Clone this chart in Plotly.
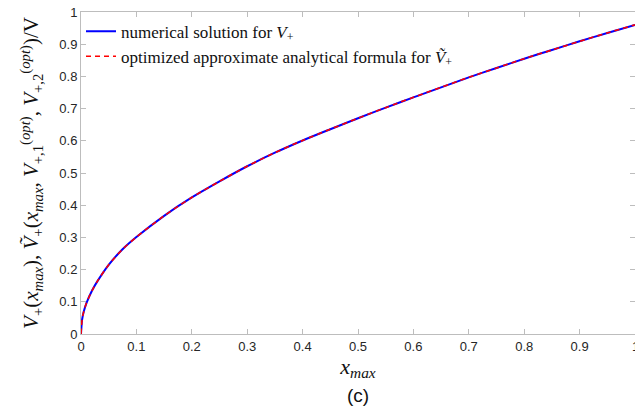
import plotly.graph_objects as go

# x_max grid and readings of V+ (normalised by V)
x_max = [0, 0.002, 0.005, 0.01, 0.02, 0.03, 0.05, 0.075, 0.1, 0.15, 0.2, 0.25,
         0.3, 0.35, 0.4, 0.45, 0.5, 0.55, 0.6, 0.65, 0.7, 0.75, 0.8, 0.85,
         0.9, 0.95, 1.0]
v_numerical = [0, 0.045, 0.07, 0.097, 0.135, 0.165, 0.215, 0.263, 0.301, 0.367,
               0.424, 0.474, 0.521, 0.563, 0.601, 0.636, 0.670, 0.703, 0.735,
               0.766, 0.797, 0.826, 0.855, 0.882, 0.909, 0.935, 0.960]
v_approx = [0, 0.045, 0.07, 0.097, 0.135, 0.165, 0.215, 0.263, 0.301, 0.367,
            0.424, 0.474, 0.521, 0.563, 0.601, 0.636, 0.670, 0.703, 0.735,
            0.766, 0.797, 0.826, 0.855, 0.882, 0.909, 0.935, 0.960]

tick_vals = [0, 0.1, 0.2, 0.3, 0.4, 0.5, 0.6, 0.7, 0.8, 0.9, 1]
tick_text = ["0", "0.1", "0.2", "0.3", "0.4", "0.5", "0.6", "0.7", "0.8", "0.9", "1"]

serif = "Liberation Serif"
sans = "Liberation Sans"
tick_font = dict(family=sans, size=13, color="#262626")

fig = go.Figure()
fig.add_trace(go.Scatter(
    x=x_max, y=v_numerical, mode="lines", line_shape="spline",
    line=dict(color="#0000ff", width=2, smoothing=0.8),
    name="numerical solution for <i>V</i><sub>+</sub>",
))
fig.add_trace(go.Scatter(
    x=x_max, y=v_approx, mode="lines", line_shape="spline",
    line=dict(color="#ff0000", width=1.6, dash="5px,4px", smoothing=0.8),
    name="optimized approximate analytical formula for <i>Ṽ</i><sub>+</sub>",
))

axis_common = dict(
    range=[0, 1], tickvals=tick_vals, ticktext=tick_text,
    showgrid=False, zeroline=False, showline=True, linecolor="#bdbdbd",
    linewidth=1, mirror="ticks", ticks="inside", ticklen=5, tickcolor="#bdbdbd",
    tickfont=tick_font,
)

fig.update_layout(
    width=635, height=418,
    margin=dict(l=81, r=0, t=12, b=84),
    paper_bgcolor="white", plot_bgcolor="white",
    showlegend=True,
    legend=dict(
        x=0.0, y=0.995, xanchor="left", yanchor="top",
        bgcolor="rgba(255,255,255,0)", borderwidth=0,
        font=dict(family=serif, size=17, color="#111111"),
        itemwidth=30, tracegroupgap=0,
    ),
    xaxis=dict(
        **axis_common,
        title=dict(text="<i>x</i><sub><i>max</i></sub>",
                   font=dict(family=serif, size=22, color="#111111"), standoff=2),
    ),
    yaxis=dict(
        **axis_common,
        title=dict(
            text="<i>V</i><sub>+</sub>(<i>x</i><sub><i>max</i></sub>), "
                 "<i>Ṽ</i><sub>+</sub>(<i>x</i><sub><i>max</i></sub>, "
                 "<i>V</i><sub>+,1</sub><sup>(<i>opt</i>)</sup>, "
                 "<i>V</i><sub>+,2</sub><sup>(<i>opt</i>)</sup>)/V",
            font=dict(family=serif, size=21, color="#111111"), standoff=14),
    ),
)

# last x tick label sits on the figure's right edge
fig.add_annotation(
    text=tick_text[-1], xref="x", yref="paper", x=tick_vals[-1], y=0,
    xanchor="center", yanchor="top", yshift=-3, showarrow=False,
    font=tick_font,
)

fig.add_annotation(
    text="(c)", xref="paper", yref="paper", x=0.5, y=-0.19,
    xanchor="center", yanchor="middle", showarrow=False,
    font=dict(family=sans, size=19, color="#111111"),
)

fig.write_html("out.html")
